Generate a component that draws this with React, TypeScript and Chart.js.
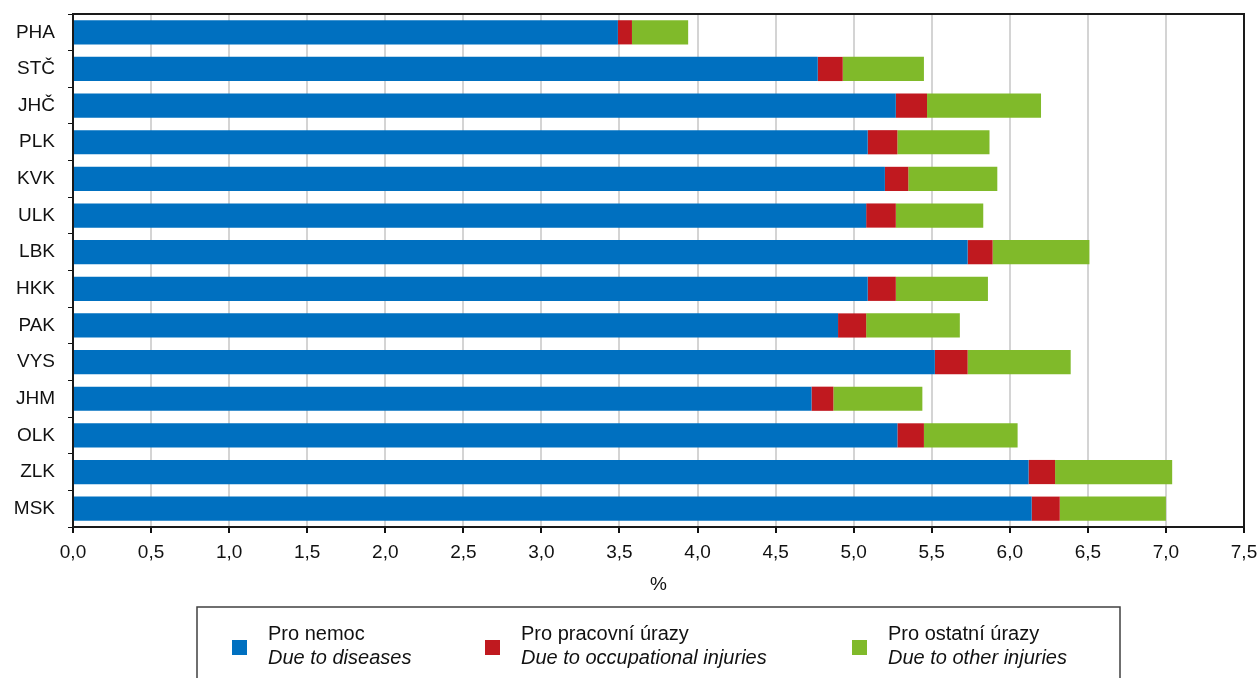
import React, { useEffect, useRef } from "react";
import { Chart, registerables } from "chart.js";

Chart.register(...registerables);

const categories = ["PHA", "STČ", "JHČ", "PLK", "KVK", "ULK", "LBK", "HKK", "PAK", "VYS", "JHM", "OLK", "ZLK", "MSK"];
const diseases = [3.49, 4.77, 5.27, 5.09, 5.2, 5.08, 5.73, 5.09, 4.9, 5.52, 4.73, 5.28, 6.12, 6.14];
const occupational = [0.09, 0.16, 0.2, 0.19, 0.15, 0.19, 0.16, 0.18, 0.18, 0.21, 0.14, 0.17, 0.17, 0.18];
const other = [0.36, 0.52, 0.73, 0.59, 0.57, 0.56, 0.62, 0.59, 0.6, 0.66, 0.57, 0.6, 0.75, 0.68];

const seriesLabels = [
  ["Pro nemoc", "Due to diseases"],
  ["Pro pracovní úrazy", "Due to occupational injuries"],
  ["Pro ostatní úrazy", "Due to other injuries"],
];
const colors = ["#0070C0", "#C0191F", "#80BA2A"];
const xMin = 0;
const xMax = 7.5;
const xStep = 0.5;

const FONT = "'Liberation Sans', Arial, sans-serif";

const framePlugin = {
  id: "frame",
  afterDatasetsDraw(chart: any) {
    const { ctx, chartArea } = chart;
    ctx.save();
    ctx.strokeStyle = "#1a1a1a";
    ctx.lineWidth = 2;
    ctx.strokeRect(chartArea.left, chartArea.top, chartArea.right - chartArea.left, chartArea.bottom - chartArea.top);
    ctx.restore();
  },
};

const legendPlugin = {
  id: "customLegend",
  afterDraw(chart: any) {
    const { ctx } = chart;
    ctx.save();
    ctx.strokeStyle = "#404040";
    ctx.lineWidth = 1.5;
    ctx.strokeRect(197, 607, 923, 90);
    const markerX = [232, 485, 852];
    chart.data.datasets.forEach((ds: any, i: number) => {
      const mx = markerX[i];
      ctx.fillStyle = ds.backgroundColor;
      ctx.fillRect(mx, 640, 15, 15);
      const lbl = seriesLabels[i];
      ctx.fillStyle = "#111";
      ctx.textBaseline = "middle";
      ctx.textAlign = "left";
      ctx.font = `20px ${FONT}`;
      ctx.fillText(lbl[0], mx + 36, 634);
      ctx.font = `italic 20px ${FONT}`;
      ctx.fillText(lbl[1], mx + 36, 658);
    });
    ctx.restore();
  },
};

export default function App() {
  const ref = useRef<HTMLCanvasElement | null>(null);
  useEffect(() => {
    if (!ref.current) return;
    const chart = new Chart(ref.current, {
      type: "bar",
      data: {
        labels: categories,
        datasets: [diseases, occupational, other].map((d, i) => ({
          label: seriesLabels[i].join(" / "),
          data: d,
          backgroundColor: colors[i],
          borderWidth: 0,
          categoryPercentage: 1,
          barPercentage: 0.66,
        })),
      },
      options: {
        indexAxis: "y",
        responsive: false,
        animation: false,
        layout: { padding: { top: 14, right: 15, bottom: 81, left: 0 } },
        plugins: { legend: { display: false }, tooltip: { enabled: false } },
        scales: {
          x: {
            stacked: true,
            min: xMin,
            max: xMax,
            ticks: {
              stepSize: xStep,
              color: "#111",
              font: { family: FONT, size: 19 },
              padding: 8,
              maxRotation: 0,
              callback: (v: any) => Number(v).toFixed(1).replace(".", ","),
            },
            grid: { color: "#d4d4d4", lineWidth: 2, tickColor: "#111", tickLength: 6 },
            border: { color: "#111", width: 2 },
            title: { display: true, text: "%", color: "#111", font: { family: FONT, size: 19 }, padding: { top: 4, bottom: 1 } },
            afterFit: (s: any) => {
              s.height = 70;
              s.paddingLeft = 0;
              s.paddingRight = 0;
            },
          },
          y: {
            stacked: true,
            ticks: { color: "#111", font: { family: FONT, size: 19 }, padding: 13 },
            grid: { drawOnChartArea: false, tickColor: "#111", tickLength: 5 },
            border: { color: "#111", width: 2 },
            afterFit: (s: any) => {
              s.width = 73;
              s.paddingTop = 0;
              s.paddingBottom = 0;
            },
          },
        },
      },
      plugins: [framePlugin, legendPlugin],
    } as any);
    return () => chart.destroy();
  }, []);
  return (
    <div style={{ position: "fixed", left: 0, top: 0, width: 1259, height: 678, background: "#fff" }}>
      <canvas ref={ref} width={1259} height={678} style={{ display: "block" }} />
    </div>
  );
}
